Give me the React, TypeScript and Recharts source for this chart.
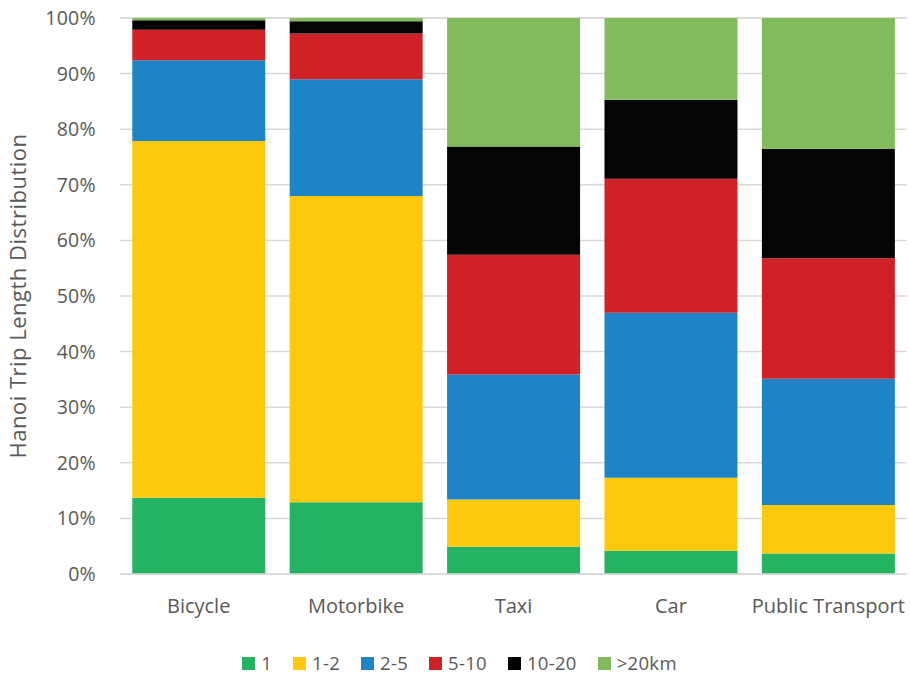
import { BarChart, Bar, XAxis, YAxis, CartesianGrid, Legend } from "recharts";

const modes = ["Bicycle", "Motorbike", "Taxi", "Car", "Public Transport"];

// share of trips per distance band, percent
const band1 = [13.7, 12.9, 4.9, 4.2, 3.7];
const band1to2 = [64.2, 55.1, 8.5, 13.1, 8.7];
const band2to5 = [14.5, 21.0, 22.5, 29.7, 22.7];
const band5to10 = [5.5, 8.2, 21.5, 24.1, 21.7];
const band10to20 = [1.7, 2.2, 19.5, 14.2, 19.7];
const band20plus = [0.4, 0.6, 23.1, 14.7, 23.5];

const yTicks = [0, 10, 20, 30, 40, 50, 60, 70, 80, 90, 100];

const series = [
  { key: "b1", name: "1", color: "#24b362", values: band1 },
  { key: "b12", name: "1-2", color: "#fec80d", values: band1to2 },
  { key: "b25", name: "2-5", color: "#1e84c6", values: band2to5 },
  { key: "b510", name: "5-10", color: "#d02127", values: band5to10 },
  { key: "b1020", name: "10-20", color: "#040404", values: band10to20 },
  { key: "b20", name: ">20km", color: "#82bb5b", values: band20plus },
];

const data = modes.map((mode, i) => {
  const row: Record<string, string | number> = { mode };
  series.forEach((s) => {
    row[s.key] = s.values[i];
  });
  return row;
});

const FONT = "'Open Sans', 'DejaVu Sans', sans-serif";
const TEXT = "#595959";

function LegendRow() {
  return (
    <div
      style={{
        display: "flex",
        justifyContent: "center",
        gap: 21,
        paddingTop: 17,
        paddingLeft: 12,
        fontFamily: FONT,
        fontSize: 18.5,
        color: TEXT,
        lineHeight: "24px",
      }}
    >
      {series.map((s) => (
        <div key={s.key} style={{ display: "flex", alignItems: "center" }}>
          <span style={{ display: "inline-block", width: 13, height: 13, background: s.color, marginRight: 6 }} />
          <span style={{ letterSpacing: 0.3 }}>{s.name}</span>
        </div>
      ))}
    </div>
  );
}

export default function App() {
  return (
    <div style={{ position: "absolute", left: 0, top: 0, width: 910, height: 675, background: "#fff" }}>
      <BarChart
        width={910}
        height={675}
        data={data}
        margin={{ top: 18, right: 3, bottom: 0, left: 0 }}
        barCategoryGap="7.8%"
      >
        <CartesianGrid vertical={false} stroke="#d9d9d9" strokeWidth={1.5} />
        <XAxis
          dataKey="mode"
          axisLine={{ stroke: "#d9d9d9", strokeWidth: 1.5 }}
          tickLine={false}
          tickMargin={19}
          height={60}
          tick={{ fill: TEXT, fontSize: 20, fontFamily: FONT }}
        />
        <YAxis
          domain={[0, 100]}
          ticks={yTicks}
          tickFormatter={(v: number) => `${v}%`}
          axisLine={false}
          tickLine={false}
          tickMargin={18}
          width={120}
          tick={{ fill: TEXT, fontSize: 19.5, fontFamily: FONT, letterSpacing: 0.3 }}
          label={{
            value: "Hanoi Trip Length Distribution",
            angle: -90,
            position: "insideLeft",
            offset: 18,
            style: { textAnchor: "middle", fill: TEXT, fontSize: 22, fontFamily: FONT, letterSpacing: 0.5 },
          }}
        />
        <Legend verticalAlign="bottom" height={41} content={() => <LegendRow />} />
        {series.map((s) => (
          <Bar key={s.key} dataKey={s.key} name={s.name} stackId="a" fill={s.color} isAnimationActive={false} />
        ))}
      </BarChart>
    </div>
  );
}
